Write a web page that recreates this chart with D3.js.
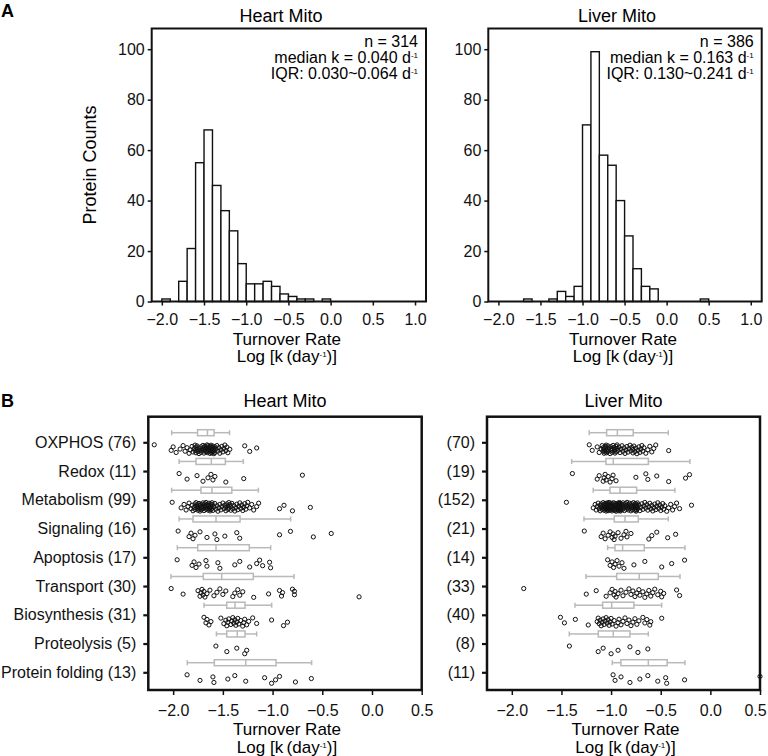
<!DOCTYPE html>
<html><head><meta charset="utf-8">
<script src="https://cdn.jsdelivr.net/npm/d3@7"></script>
<style>
body{margin:0;background:#fff;}
svg{font-family:"Liberation Sans", Arial, Helvetica, sans-serif;}
</style></head><body>
<svg id="chart" width="768" height="756"></svg>
<script>
// ---------------- DATA ----------------
// Histogram bins (width 0.1 in log10 k), start at -2.0
const heartBinStart = -2.0;
const heartCounts = [1,0,8,21,55,68,46,36,28,15,7,7,8,6,3,2,1,1,0,1];
const liverBinStart = -2.0;
const liverCounts = [0,0,0,1,0,0,1,4,2,6,70,99,58,54,40,26,13,6,5,0,0,0,0,0,1];
const histYTicks = [0,20,40,60,80,100];
const histXTicks = [-2.0,-1.5,-1.0,-0.5,0.0,0.5,1.0];
const boxXTicks = [-2.0,-1.5,-1.0,-0.5,0.0,0.5];
const heartNote = ["n = 314", "median k = 0.040 d", "IQR: 0.030~0.064 d"];
const liverNote = ["n = 386", "median k = 0.163 d", "IQR: 0.130~0.241 d"];

const categories = ["OXPHOS","Redox","Metabolism","Signaling","Apoptosis","Transport","Biosynthesis","Proteolysis","Protein folding"];
const heartLabels = ["OXPHOS (76)","Redox (11)","Metabolism (99)","Signaling (16)","Apoptosis (17)","Transport (30)","Biosynthesis (31)","Proteolysis (5)","Protein folding (13)"];
const liverLabels = ["(70)","(19)","(152)","(21)","(14)","(33)","(40)","(8)","(11)"];

// box stats: [whisker low, Q1, median, Q3, whisker high]
const heartBoxStats = [
  [-2.015,-1.755,-1.655,-1.588,-1.433],
  [-1.94,-1.77,-1.616,-1.475,-1.294],
  [-2.015,-1.72,-1.61,-1.41,-1.143],
  [-1.94,-1.80,-1.569,-1.327,-0.818],
  [-1.958,-1.753,-1.569,-1.234,-1.019],
  [-2.022,-1.697,-1.512,-1.194,-0.784],
  [-1.69,-1.461,-1.378,-1.277,-1.009],
  [-1.565,-1.461,-1.355,-1.277,-1.16],
  [-1.858,-1.586,-1.27,-0.965,-0.607]
];
const liverBoxStats = [
  [-1.22,-1.045,-0.937,-0.777,-0.424],
  [-1.397,-1.052,-0.978,-0.625,-0.206],
  [-1.18,-1.011,-0.911,-0.743,-0.357],
  [-1.273,-0.968,-0.86,-0.726,-0.424],
  [-1.035,-0.961,-0.884,-0.666,-0.256],
  [-1.253,-0.944,-0.716,-0.525,-0.306],
  [-1.364,-1.085,-0.994,-0.77,-0.491],
  [-1.421,-1.129,-0.978,-0.81,-0.625],
  [-0.988,-0.901,-0.625,-0.435,-0.256]
];

// individual proteins (log10 k)
const heartOXPHOS = [-2.19,-2.02,-2.00,-1.97,-1.93,-1.90,-1.88,-1.86,-1.84,-1.83,-1.81,-1.80,-1.79,-1.78,-1.78,-1.77,-1.77,-1.76,-1.76,
 -1.75,-1.74,-1.74,-1.73,-1.72,-1.72,-1.71,-1.70,-1.70,-1.69,-1.69,-1.68,-1.68,-1.67,-1.67,-1.66,-1.66,-1.66,-1.655,
 -1.65,-1.65,-1.64,-1.64,-1.63,-1.63,-1.63,-1.62,-1.62,-1.62,-1.61,-1.61,-1.61,-1.60,-1.60,-1.60,-1.59,-1.59,-1.59,
 -1.58,-1.58,-1.57,-1.56,-1.55,-1.54,-1.53,-1.52,-1.51,-1.50,-1.49,-1.48,-1.47,-1.46,-1.45,-1.43,-1.28,-1.23,-1.16];
const heartRedox = [-1.94,-1.86,-1.76,-1.70,-1.65,-1.62,-1.60,-1.58,-1.47,-1.29,-0.70];
const heartMetabolism = [-2.01,-1.92,-1.89,-1.87,-1.85,-1.84,-1.82,-1.81,-1.80,-1.79,-1.78,-1.78,-1.77,-1.77,-1.76,-1.76,-1.75,-1.75,-1.74,-1.74,-1.73,-1.73,-1.72,-1.72,
 -1.715,-1.71,-1.70,-1.70,-1.69,-1.69,-1.68,-1.68,-1.67,-1.67,-1.67,-1.66,-1.66,-1.65,-1.65,-1.64,-1.64,-1.64,-1.63,-1.63,-1.62,-1.62,-1.62,-1.61,-1.61,
 -1.605,-1.60,-1.59,-1.58,-1.57,-1.56,-1.55,-1.54,-1.53,-1.52,-1.51,-1.50,-1.49,-1.48,-1.47,-1.47,-1.46,-1.45,-1.45,-1.44,-1.44,-1.43,-1.42,-1.42,-1.41,
 -1.40,-1.39,-1.38,-1.37,-1.36,-1.35,-1.34,-1.33,-1.32,-1.31,-1.30,-1.29,-1.28,-1.27,-1.26,-1.25,-1.23,-1.21,-1.19,-1.16,-1.14,-0.93,-0.885,-0.80,-0.62];
const heartSignaling = [-1.95,-1.84,-1.82,-1.80,-1.78,-1.73,-1.66,-1.58,-1.56,-1.48,-1.36,-1.33,-0.93,-0.82,-0.59,-0.41];
const heartApoptosis = [-1.96,-1.81,-1.79,-1.77,-1.74,-1.67,-1.66,-1.55,-1.53,-1.38,-1.33,-1.23,-1.16,-1.13,-1.10,-1.03,-1.02];
const heartTransport = [-2.02,-1.90,-1.75,-1.73,-1.72,-1.71,-1.70,-1.69,-1.68,-1.66,-1.63,-1.59,-1.56,-1.53,-1.50,-1.47,-1.40,-1.38,-1.35,-1.33,-1.30,-1.19,-1.04,-0.93,-0.91,-0.90,-0.80,-0.78,-0.78,-0.13];
const heartBiosynthesis = [-1.69,-1.67,-1.66,-1.64,-1.62,-1.52,-1.49,-1.47,-1.46,-1.45,-1.44,-1.42,-1.41,-1.40,-1.39,-1.38,-1.37,-1.36,-1.35,-1.34,-1.32,-1.30,-1.29,-1.28,-1.26,-1.24,-1.20,-1.16,-1.01,-0.89,-0.85];
const heartProteolysis = [-1.57,-1.46,-1.36,-1.28,-1.26];
const heartFolding = [-1.86,-1.73,-1.60,-1.59,-1.45,-1.38,-1.27,-1.08,-1.01,-0.97,-0.93,-0.77,-0.61];

const liverOXPHOS = [-1.22,-1.19,-1.14,-1.12,-1.10,-1.09,-1.08,-1.08,-1.07,-1.07,-1.06,-1.06,-1.06,-1.05,-1.05,-1.05,-1.045,
 -1.04,-1.03,-1.03,-1.02,-1.01,-1.00,-1.00,-0.99,-0.99,-0.98,-0.97,-0.97,-0.96,-0.96,-0.95,-0.95,-0.94,-0.94,
 -0.93,-0.92,-0.91,-0.90,-0.89,-0.88,-0.87,-0.86,-0.85,-0.84,-0.83,-0.82,-0.81,-0.80,-0.79,-0.78,-0.78,
 -0.77,-0.76,-0.75,-0.74,-0.73,-0.72,-0.71,-0.70,-0.69,-0.68,-0.67,-0.65,-0.63,-0.61,-0.59,-0.57,-0.55,-0.42];
const liverRedox = [-1.39,-1.14,-1.12,-1.08,-1.07,-1.06,-1.05,-1.03,-1.01,-0.99,-0.98,-0.95,-0.75,-0.65,-0.63,-0.54,-0.42,-0.25,-0.21];
const liverMetabolism = [-1.45,-1.18,-1.16,-1.15,-1.14,-1.13,-1.12,-1.11,-1.11,-1.10,-1.10,-1.09,-1.09,-1.08,-1.08,-1.07,-1.07,-1.07,-1.06,-1.06,-1.06,-1.05,-1.05,-1.05,-1.04,-1.04,-1.04,-1.04,-1.03,-1.03,-1.03,-1.03,-1.02,-1.02,-1.02,-1.02,-1.015,-1.01,
 -1.005,-1.00,-1.00,-0.995,-0.99,-0.99,-0.985,-0.98,-0.98,-0.975,-0.97,-0.97,-0.965,-0.96,-0.96,-0.955,-0.95,-0.95,-0.945,-0.94,-0.94,-0.935,-0.93,-0.93,-0.93,-0.925,-0.925,-0.92,-0.92,-0.92,-0.915,-0.915,-0.915,-0.912,-0.912,-0.911,-0.911,-0.911,
 -0.905,-0.90,-0.895,-0.89,-0.885,-0.88,-0.875,-0.87,-0.865,-0.86,-0.855,-0.85,-0.845,-0.84,-0.835,-0.83,-0.825,-0.82,-0.815,-0.81,-0.805,-0.80,-0.795,-0.79,-0.785,-0.78,-0.775,-0.77,-0.765,-0.76,-0.757,-0.755,-0.752,-0.75,-0.748,-0.746,-0.744,-0.743,
 -0.74,-0.735,-0.73,-0.72,-0.71,-0.70,-0.69,-0.68,-0.67,-0.66,-0.65,-0.64,-0.63,-0.62,-0.61,-0.60,-0.59,-0.58,-0.57,-0.56,-0.55,-0.54,-0.53,-0.52,-0.51,-0.50,-0.49,-0.48,-0.47,-0.46,-0.44,-0.42,-0.40,-0.38,-0.36,-0.34,-0.31,-0.19];
const liverSignaling = [-1.27,-1.10,-1.08,-1.06,-1.03,-1.01,-0.99,-0.98,-0.97,-0.96,-0.93,-0.90,-0.87,-0.85,-0.84,-0.80,-0.62,-0.59,-0.54,-0.43,-0.35];
const liverApoptosis = [-1.035,-1.01,-0.99,-0.975,-0.96,-0.94,-0.92,-0.89,-0.87,-0.77,-0.66,-0.49,-0.39,-0.26];
const liverTransport = [-1.88,-1.25,-1.15,-1.05,-1.01,-0.99,-0.97,-0.96,-0.95,-0.93,-0.90,-0.88,-0.85,-0.82,-0.80,-0.78,-0.76,-0.74,-0.72,-0.71,-0.68,-0.66,-0.64,-0.62,-0.60,-0.58,-0.56,-0.53,-0.50,-0.49,-0.47,-0.34,-0.31];
const liverBiosynthesis = [-1.51,-1.47,-1.36,-1.23,-1.14,-1.13,-1.12,-1.11,-1.10,-1.09,-1.08,-1.07,-1.06,-1.05,-1.04,-1.03,-1.02,-1.01,-1.00,-0.99,-0.97,-0.95,-0.93,-0.92,-0.90,-0.88,-0.86,-0.84,-0.82,-0.80,-0.78,-0.76,-0.74,-0.72,-0.68,-0.66,-0.64,-0.61,-0.60,-0.49];
const liverProteolysis = [-1.42,-1.13,-1.08,-1.00,-0.93,-0.81,-0.73,-0.63];
const liverFolding = [-0.98,-0.96,-0.90,-0.81,-0.71,-0.63,-0.53,-0.45,-0.44,-0.26,0.50];

const heartPoints = [heartOXPHOS,heartRedox,heartMetabolism,heartSignaling,heartApoptosis,heartTransport,heartBiosynthesis,heartProteolysis,heartFolding];
const liverPoints = [liverOXPHOS,liverRedox,liverMetabolism,liverSignaling,liverApoptosis,liverTransport,liverBiosynthesis,liverProteolysis,liverFolding];

// ---------------- DRAW ----------------
const svg = d3.select("#chart");
const FONT = 16, TITLE = 18, AXT = 17;
const boxGrey = "#b9b9b9";

function supText(sel, main, sup, tail){
  sel.append("tspan").text(main);
  sel.append("tspan").attr("font-size", 8).attr("dy", -5).text(sup);
  if (tail) sel.append("tspan").attr("dy", 5).text(tail);
}

function axisTitle(g, cx, y1, y2){
  g.append("text").attr("x", cx).attr("y", y1).attr("text-anchor","middle")
    .attr("font-size", AXT).text("Turnover Rate");
  const t = g.append("text").attr("x", cx).attr("y", y2).attr("text-anchor","middle").attr("font-size", AXT);
  supText(t, "Log [k\u2009(day", "-1", ")]");
}

function histogram(x0, x1, title, titleX, binStart, counts, note, showYLabel){
  const y0 = 28.5, y1 = 301.5;
  const x = d3.scaleLinear().domain([-2.12, 1.13]).range([x0, x1]);
  const y = d3.scaleLinear().domain([0, 108.2]).range([y1, y0]);
  const g = svg.append("g");
  const bins = counts.map((c,i)=>({s: binStart + i*0.1, e: binStart + (i+1)*0.1, c})).filter(d=>d.c>0);
  g.selectAll("rect.bar").data(bins).join("rect").attr("class","bar")
    .attr("x", d=>x(d.s)).attr("width", d=>x(d.e)-x(d.s))
    .attr("y", d=>y(d.c)).attr("height", d=>y(0)-y(d.c))
    .attr("fill","#fff").attr("stroke","#111").attr("stroke-width",1.4);
  g.append("rect").attr("x",x0).attr("y",y0).attr("width",x1-x0).attr("height",y1-y0)
    .attr("fill","none").attr("stroke","#111").attr("stroke-width",2);
  const ya = g.append("g").attr("transform",`translate(${x0},0)`)
    .call(d3.axisLeft(y).tickValues(histYTicks).tickSize(4).tickPadding(3));
  const xa = g.append("g").attr("transform",`translate(0,${y1})`)
    .call(d3.axisBottom(x).tickValues(histXTicks).tickFormat(d3.format(".1f")).tickSize(4).tickPadding(8));
  [ya,xa].forEach(a=>{a.select(".domain").remove(); a.selectAll("line").attr("stroke","#111").attr("stroke-width",1.5);
    a.selectAll("text").attr("font-size",FONT).attr("fill","#111").attr("font-family","Liberation Sans, Arial, sans-serif");});
  g.append("text").attr("x", titleX).attr("y", 21.5).attr("text-anchor","middle").attr("font-size",TITLE).text(title);
  note.forEach((s,i)=>{
    const t = g.append("text").attr("x", x1-8).attr("y", 46.5 + i*16.3).attr("text-anchor","end").attr("font-size",FONT);
    if(i===0) t.text(s); else supText(t, s, "-1");
  });
  axisTitle(g, (x0+x1)/2 - 2, 344.5, 362);
  if (showYLabel){
    g.append("text").attr("transform",`translate(96,${(y0+y1)/2}) rotate(-90)`).attr("text-anchor","middle")
      .attr("font-size",TITLE).text("Protein Counts");
  }
}

function boxPanel(x0, x1, title, labels, stats, points){
  const y0 = 416.7, y1 = 690;
  const x = d3.scaleLinear().domain([-2.25, 0.5]).range([x0, x1]);
  const yc = d3.scalePoint().domain(categories).range([442.3, 672.3]);
  const g = svg.append("g");
  const bw = 6, cap = 5, boxOff = -9.6;
  categories.forEach((c,i)=>{
    const s = stats[i], cy = yc(c) + boxOff;
    const b = g.append("g").attr("stroke", boxGrey).attr("stroke-width",1.5).attr("fill","none");
    b.append("line").attr("x1",x(s[0])).attr("x2",x(s[1])).attr("y1",cy).attr("y2",cy);
    b.append("line").attr("x1",x(s[3])).attr("x2",x(s[4])).attr("y1",cy).attr("y2",cy);
    b.append("line").attr("x1",x(s[0])).attr("x2",x(s[0])).attr("y1",cy-cap/2).attr("y2",cy+cap/2);
    b.append("line").attr("x1",x(s[4])).attr("x2",x(s[4])).attr("y1",cy-cap/2).attr("y2",cy+cap/2);
    b.append("rect").attr("x",x(s[1])).attr("width",x(s[3])-x(s[1])).attr("y",cy-bw/2).attr("height",bw);
    b.append("line").attr("x1",x(s[2])).attr("x2",x(s[2])).attr("y1",cy-bw/2).attr("y2",cy+bw/2);
    const pts = points[i].map((v,j)=>({v, off: (((j*0.618034) % 1) - 0.5) * 9}));
    g.selectAll(null).data(pts).join("circle")
      .attr("cx", d=>x(d.v)).attr("cy", d=>yc(c) + 7 + d.off).attr("r", 2.1)
      .attr("fill","none").attr("stroke","#111").attr("stroke-width",1);
  });
  g.append("rect").attr("x",x0).attr("y",y0).attr("width",x1-x0).attr("height",y1-y0)
    .attr("fill","none").attr("stroke","#111").attr("stroke-width",2.5);
  const ya = g.append("g").attr("transform",`translate(${x0-1},0)`)
    .call(d3.axisLeft(yc).tickSize(4).tickPadding(7).tickFormat((d,i)=>labels[i]));
  const xa = g.append("g").attr("transform",`translate(0,${y1})`)
    .call(d3.axisBottom(x).tickValues(boxXTicks).tickFormat(d3.format(".1f")).tickSize(5).tickPadding(10));
  [ya,xa].forEach(a=>{a.select(".domain").remove(); a.selectAll("text").attr("font-size",FONT).attr("fill","#111").attr("font-family","Liberation Sans, Arial, sans-serif");});
  ya.selectAll("line").attr("stroke","#111").attr("stroke-width",2.2);
  xa.selectAll("line").attr("stroke","#111").attr("stroke-width",1.5);
  // keep the right-most tick label inside the page
  xa.selectAll("text").filter(d=>x(d) > 755).attr("dx", -5);
  g.append("text").attr("x", (x0+x1)/2).attr("y", 406.7).attr("text-anchor","middle").attr("font-size",TITLE).text(title);
  axisTitle(g, (x0+x1)/2 + 2, 735, 752.5);
}

histogram(151.7, 426, "Heart Mito", 281, heartBinStart, heartCounts, heartNote, true);
histogram(488.3, 761.7, "Liver Mito", 617, liverBinStart, liverCounts, liverNote, false);
boxPanel(148.3, 421.7, "Heart Mito", heartLabels, heartBoxStats, heartPoints);
boxPanel(487, 760, "Liver Mito", liverLabels, liverBoxStats, liverPoints);

svg.append("text").attr("x",1).attr("y",17).attr("font-size",18).attr("font-weight","bold").text("A");
svg.append("text").attr("x",1).attr("y",407).attr("font-size",18).attr("font-weight","bold").text("B");
</script>
</body></html>
